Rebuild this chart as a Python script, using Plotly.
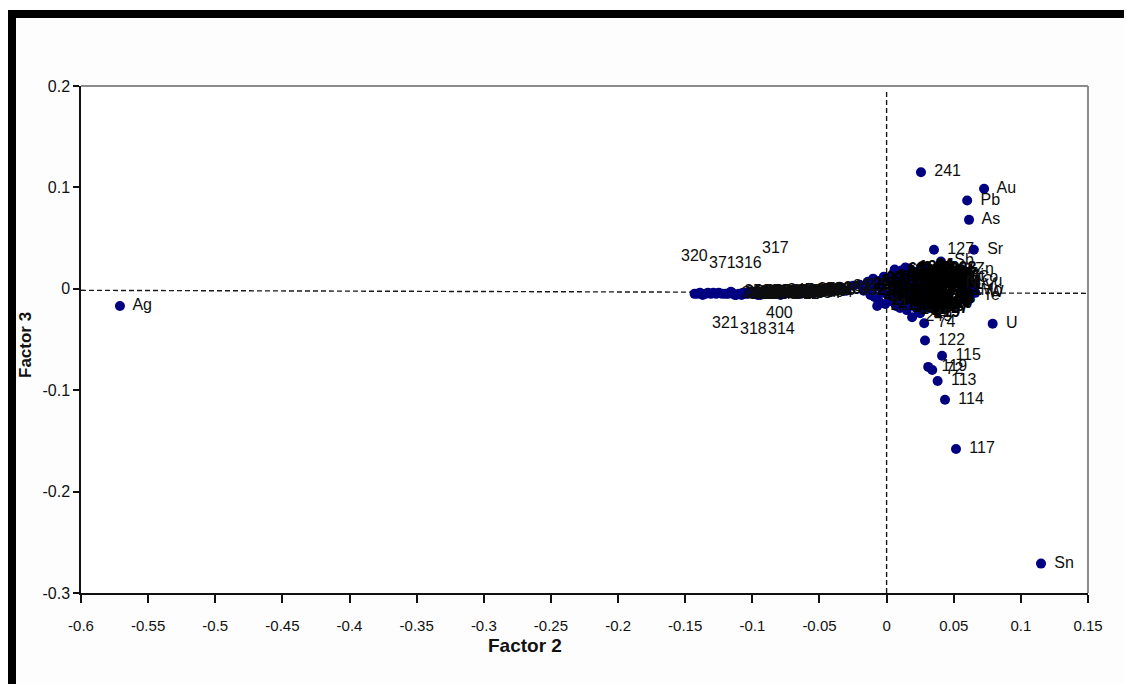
import plotly.graph_objects as go

# ---------------- data ----------------
# element loadings (labelled, label to the right)
el_names = ["Ag", "Sn", "Au", "Pb", "As", "Sr", "U", "Sb", "Zn", "Co", "Cu", "V", "Mo", "Te", "Bi", "Ni", "W"]
el_x = [-0.571, 0.115, 0.0726, 0.060, 0.0614, 0.065, 0.079, 0.0405, 0.056, 0.058, 0.061, 0.063, 0.060, 0.062, 0.052, 0.049, 0.066]
el_y = [-0.017, -0.271, 0.0986, 0.087, 0.068, 0.0385, -0.0345, 0.027, 0.019, 0.011, 0.007, 0.003, -0.002, -0.007, 0.013, 0.006, -0.004]

# outlying samples (label to the right)
out_names = ["241", "127", "122", "115", "119", "72", "113", "114", "117", "74", "249", "21"]
out_x = [0.0256, 0.0353, 0.0286, 0.0413, 0.031, 0.034, 0.038, 0.0435, 0.0517, 0.028, 0.019, -0.007]
out_y = [0.115, 0.0385, -0.051, -0.066, -0.077, -0.080, -0.091, -0.1095, -0.158, -0.034, -0.028, -0.017]

# samples whose labels were moved above / below the band
mv_names = ["320", "371", "316", "317", "321", "318", "314", "400"]
mv_x = [-0.143, -0.1225, -0.103, -0.083, -0.120, -0.0995, -0.078, -0.080]
mv_y = [-0.005, -0.005, -0.005, -0.004, -0.005, -0.004, -0.004, -0.004]

# left end of the band (labels hidden)
lb_x = [-0.141, -0.139, -0.137, -0.135, -0.133, -0.131, -0.129, -0.127, -0.125]
lb_y = [-0.005, -0.004, -0.006, -0.005, -0.004, -0.005, -0.004, -0.005, -0.004]

# band samples (labels to the right)
band_names = ["340", "352", "319", "366", "345", "330", "359", "372", "336", "348", "395", "327", "362",
              "381", "309", "354", "389", "342", "306", "377", "398", "333", "301", "385", "290",
              "283", "331", "339", "275", "358", "324", "369", "391", "347", "313", "383", "356", "304",
              "361", "326", "393", "350", "311", "387", "334", "368"]
band_x = [-0.118, -0.115, -0.113, -0.110, -0.107, -0.105, -0.102, -0.099, -0.097, -0.094, -0.091, -0.089, -0.086,
          -0.083, -0.080, -0.077, -0.074, -0.071, -0.068, -0.065, -0.062, -0.059, -0.056, -0.053, -0.049,
          -0.042, -0.035, -0.030, -0.025, -0.116, -0.108, -0.100, -0.092, -0.084, -0.076, -0.069, -0.061, -0.055,
          -0.112, -0.104, -0.096, -0.088, -0.079, -0.072, -0.064, -0.057]
band_y = [-0.005, -0.004, -0.006, -0.005, -0.004, -0.005, -0.003, -0.005, -0.004, -0.006, -0.004, -0.003, -0.005,
          -0.004, -0.003, -0.005, -0.004, -0.002, -0.003, -0.004, -0.002, -0.003, -0.001, -0.002, -0.001,
          0.000, 0.002, -0.002, 0.003, -0.003, -0.006, -0.003, -0.005, -0.002, -0.005, -0.004, -0.001, -0.004,
          -0.006, -0.004, -0.006, -0.004, -0.006, -0.003, -0.005, -0.002]

# dense cluster around the origin (labels to the right)
cl_names = ["205", "212", "18", "263", "97", "140", "231", "56", "188", "12", "270", "63", "154", "199", "88",
            "226", "41", "175", "254", "9", "133", "217", "102", "67", "160", "245", "31", "193", "81", "222",
            "148", "7", "259", "110", "36", "182", "238", "125", "50", "201", "93", "166", "14", "234", "77",
            "151", "27", "209", "105", "60", "171", "247", "3", "138", "86", "214", "44", "196", "120", "257",
            "69", "179", "24", "230", "99", "143",
            "11", "216", "47", "186", "252", "79", "135", "203", "58", "267", "112", "29", "191", "84", "236",
            "157", "5", "224", "95", "169", "39", "243", "128", "71", "208", "16", "184", "261", "53", "146",
            "101", "227", "34", "178", "90", "250", "131", "65", "219", "20"]
cl_x = [-0.020, -0.017, -0.014, -0.012, -0.010, -0.008, -0.006, -0.005, -0.003, -0.002, -0.001, -0.009, -0.004, -0.011,
        0.002, 0.004, 0.005, 0.007, 0.008, 0.010, 0.011, 0.012, 0.013, 0.015, 0.016, 0.017, 0.018, 0.019, 0.020,
        0.021, 0.022, 0.023, 0.024, 0.025, 0.026, 0.027, 0.028, 0.029, 0.030, 0.031, 0.032, 0.033, 0.034, 0.035,
        0.036, 0.037, 0.038, 0.039, 0.040, 0.041, 0.042, 0.003, 0.009, 0.014, 0.018, 0.022, 0.026, 0.030, 0.034,
        0.038, 0.006, 0.012, 0.024, 0.028, 0.032, 0.036,
        0.001, 0.003, 0.005, 0.006, 0.008, 0.009, 0.011, 0.013, 0.014, 0.016, 0.017, 0.019, 0.020, 0.022, 0.023,
        0.025, 0.026, 0.027, 0.029, 0.031, 0.032, 0.033, 0.035, 0.036, 0.037, 0.039, 0.040, 0.041, 0.043, 0.010,
        0.015, 0.021, 0.027, 0.033, 0.039, 0.007, 0.013, 0.019, 0.025, 0.031]
cl_y = [0.004, -0.002, 0.007, -0.006, 0.010, 0.002, -0.012, 0.008, -0.004, 0.012, -0.015, -0.008, 0.001, 0.000,
        0.011, -0.009, 0.015, -0.003, 0.006, -0.014, 0.018, 0.002, -0.007, 0.013, -0.011, 0.020, 0.004, -0.016,
        0.009, -0.002, 0.016, -0.010, 0.007, 0.019, -0.005, 0.012, -0.018, 0.003, 0.015, -0.008, 0.010, -0.013,
        0.005, 0.017, -0.004, 0.009, -0.020, 0.001, 0.011, -0.009, 0.004, -0.005, 0.013, 0.021, -0.012, -0.019,
        0.022, 0.008, -0.015, 0.014, 0.019, -0.017, -0.022, 0.016, -0.002, 0.006,
        -0.006, 0.008, -0.013, 0.016, -0.001, 0.010, -0.006, 0.017, -0.003, 0.006, -0.013, 0.013, -0.007, 0.003,
        -0.016, 0.010, 0.000, -0.012, 0.018, 0.008, -0.019, 0.014, -0.011, 0.001, 0.020, -0.014, 0.006, -0.002,
        -0.010, -0.019, -0.021, 0.010, 0.022, -0.003, 0.012, -0.017, 0.004, 0.000, -0.024, 0.020]

x_ticks = [-0.6, -0.55, -0.5, -0.45, -0.4, -0.35, -0.3, -0.25, -0.2, -0.15, -0.1, -0.05, 0, 0.05, 0.1, 0.15]
x_tick_text = ["-0.6", "-0.55", "-0.5", "-0.45", "-0.4", "-0.35", "-0.3", "-0.25", "-0.2", "-0.15", "-0.1",
               "-0.05", "0", "0.05", "0.1", "0.15"]
y_ticks = [-0.3, -0.2, -0.1, 0, 0.1, 0.2]
y_tick_text = ["-0.3", "-0.2", "-0.1", "0", "0.1", "0.2"]

x_title = "Factor 2"
y_title = "Factor 3"

# ---------------- style ----------------
NAVY = "#000080"
TXT = "#0d0d0d"
LABEL_FONT = dict(family="Liberation Sans, Arial, sans-serif", size=16, color=TXT)
DENSE_FONT = dict(family="Liberation Sans, Arial, sans-serif", size=16, color="#000000", weight="bold")
MOVED_SHIFT = {"320": 38, "371": 31, "316": 31, "317": 45, "321": -29, "318": -36, "314": -36, "400": -20}

# the page body adds an 8px margin; plot area sits at page x 81..1088, y 86..593
W, H = 1124, 676
ML, MR, MT, MB = 73, 44, 78, 91
PX0, PY1 = 81, 593
PW, PH = 1007, 507


def px(x):
    return (x - PX0) / PW


def py(y):
    return (PY1 - y) / PH


all_x = el_x + out_x + mv_x + lb_x + band_x + cl_x
all_y = el_y + out_y + mv_y + lb_y + band_y + cl_y

fig = go.Figure()

# all markers first
fig.add_trace(go.Scatter(x=all_x, y=all_y, mode="markers",
                         marker=dict(color=NAVY, size=10, line=dict(width=0)),
                         hoverinfo="skip", showlegend=False))

# labels on top
for names, xs, ys, fnt in [(band_names, band_x, band_y, LABEL_FONT), (cl_names, cl_x, cl_y, DENSE_FONT),
                           (out_names, out_x, out_y, LABEL_FONT), (el_names, el_x, el_y, LABEL_FONT)]:
    fig.add_trace(go.Scatter(x=xs, y=ys, mode="text", text=names,
                             texttemplate="   %{text}", textposition="middle right",
                             textfont=fnt, hoverinfo="skip", showlegend=False))

annotations = []
for n, xv, yv in zip(mv_names, mv_x, mv_y):
    annotations.append(dict(x=xv, y=yv, xref="x", yref="y", text=n, showarrow=False,
                            xanchor="center", yanchor="middle", yshift=MOVED_SHIFT[n],
                            font=LABEL_FONT))

annotations.append(dict(x=px(525), y=py(645), xref="paper", yref="paper",
                        text=f"<b>{x_title}</b>", showarrow=False, xanchor="center", yanchor="middle",
                        font=dict(family="Liberation Sans Narrow, Liberation Sans, Arial", size=19, color="#111")))
annotations.append(dict(x=px(25), y=py(345), xref="paper", yref="paper",
                        text=f"<b>{y_title}</b>", showarrow=False, textangle=-90,
                        xanchor="center", yanchor="middle",
                        font=dict(family="Liberation Sans, Arial", size=17, color="#111")))

shapes = [
    # reference dashed lines
    dict(type="line", xref="x", yref="y", x0=-0.6, x1=0.154, y0=-0.0015, y1=-0.0045,
         line=dict(color="#1a1a1a", width=1.4, dash="5px,3px"), layer="below"),
    dict(type="line", xref="x", yref="y", x0=0, x1=0, y0=-0.3, y1=0.196,
         line=dict(color="#1a1a1a", width=1.4, dash="5px,3px"), layer="below"),
    # plot-area border (gray top / right)
    dict(type="line", xref="paper", yref="paper", x0=0, x1=1, y0=1, y1=1,
         line=dict(color="#8c8c8c", width=2)),
    dict(type="line", xref="paper", yref="paper", x0=1, x1=1, y0=0, y1=1,
         line=dict(color="#8c8c8c", width=2)),
    # thick black frame at top and left of the picture
    dict(type="rect", xref="paper", yref="paper", x0=px(8), x1=px(1140),
         y0=py(18), y1=py(10), fillcolor="black", line=dict(width=0)),
    dict(type="rect", xref="paper", yref="paper", x0=px(8), x1=px(16),
         y0=py(700), y1=py(10), fillcolor="black", line=dict(width=0)),
]

fig.update_layout(
    width=W, height=H,
    margin=dict(l=ML, r=MR, t=MT, b=MB),
    paper_bgcolor="#fdfdfd", plot_bgcolor="#ffffff",
    showlegend=False,
    annotations=annotations, shapes=shapes,
    xaxis=dict(range=[-0.6, 0.15], tickvals=x_ticks, ticktext=x_tick_text,
               showgrid=False, zeroline=False, showline=True, linecolor="#111", linewidth=2,
               ticks="outside", ticklen=8, tickcolor="#111", tickwidth=1.5,
               ticklabelstandoff=10,
               tickfont=dict(family="Liberation Sans, Arial", size=15, color="#111")),
    yaxis=dict(range=[-0.3, 0.2], tickvals=y_ticks, ticktext=y_tick_text,
               showgrid=False, zeroline=False, showline=True, linecolor="#111", linewidth=1.5,
               ticks="outside", ticklen=6, tickcolor="#111", tickwidth=1.5,
               tickfont=dict(family="Liberation Sans, Arial", size=16, color="#111")),
)

fig.write_html("out.html")
